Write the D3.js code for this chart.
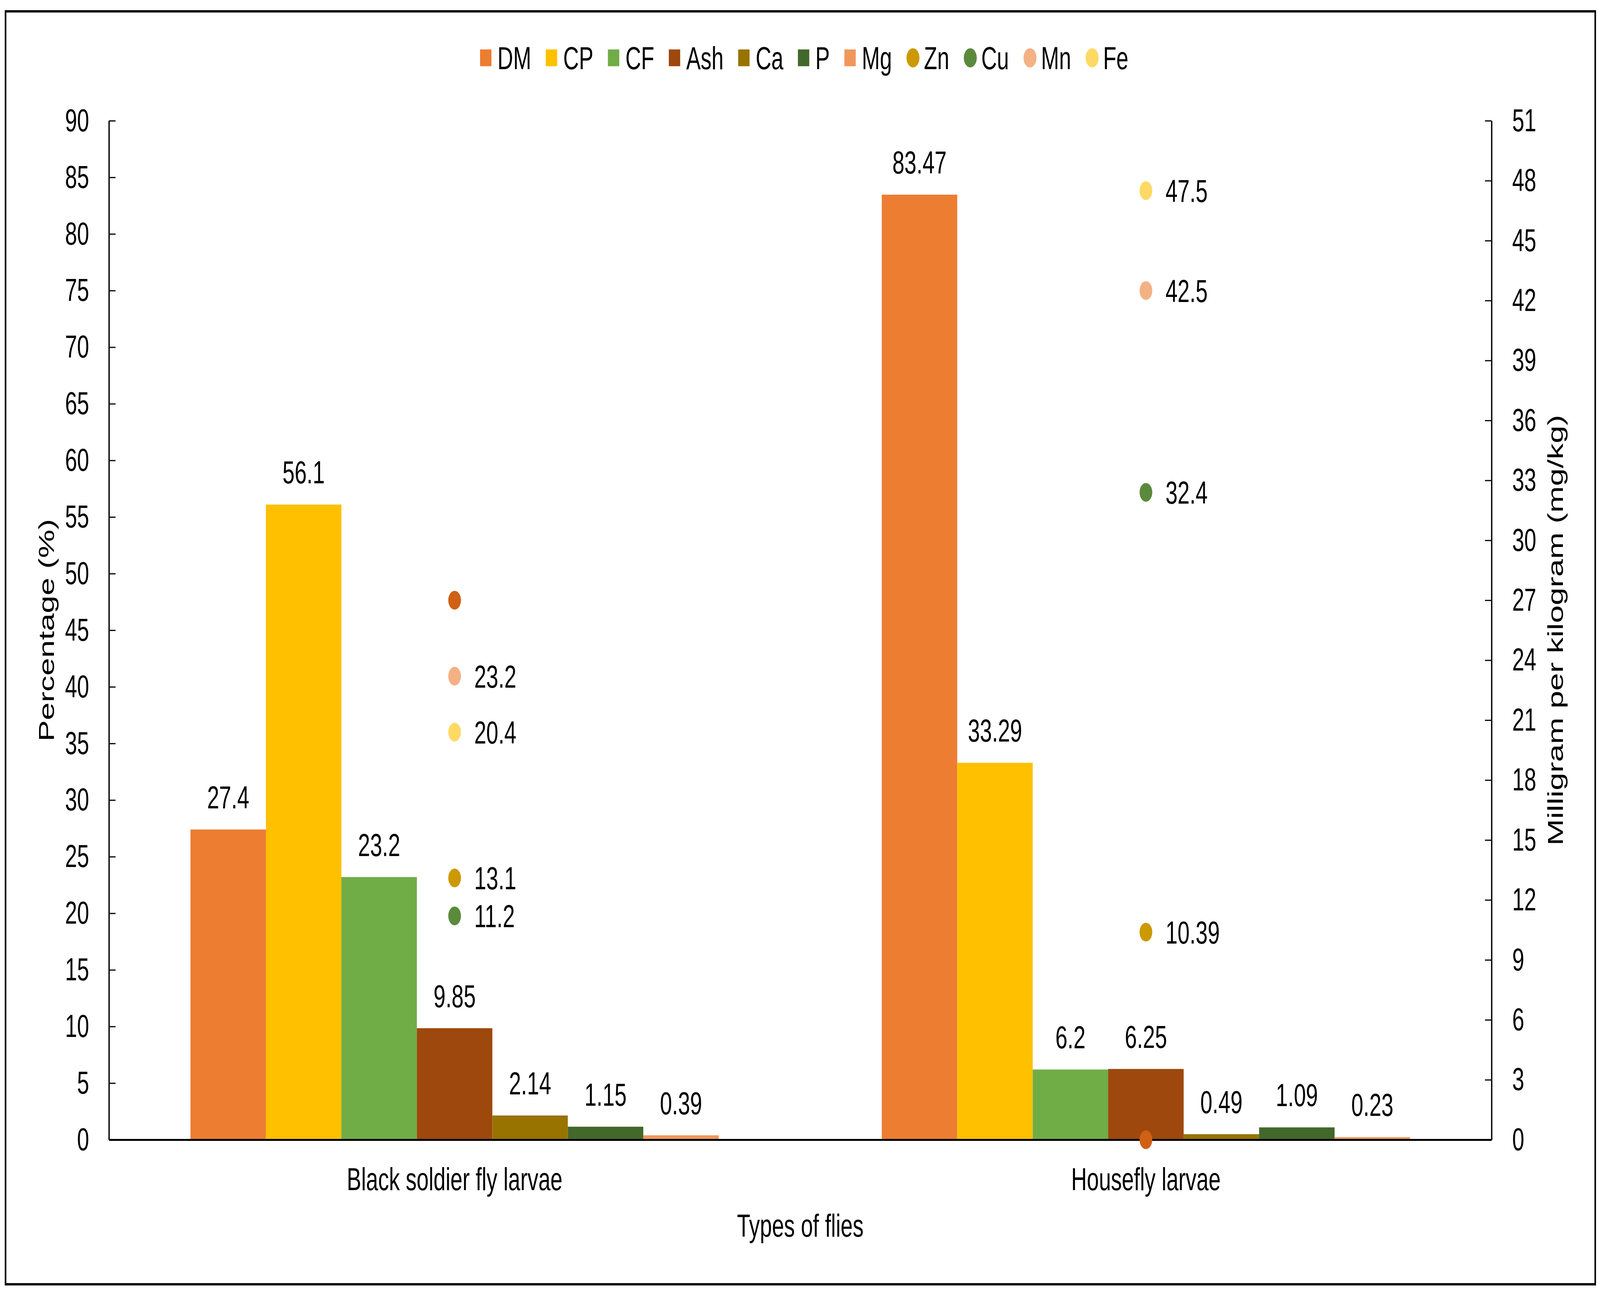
<!DOCTYPE html>
<html>
<head>
<meta charset="utf-8">
<script src="https://cdn.jsdelivr.net/npm/d3@7"></script>
<style>
  html,body{margin:0;padding:0;background:#fff;overflow:hidden;}
  text{font-family:"Liberation Sans",Arial,sans-serif;fill:#000;}
</style>
</head>
<body>
<script>
// categories
var flies=["Black soldier fly larvae","Housefly larvae"]

// bar series, percentage (left axis)
var barNames=["DM","CP","CF","Ash","Ca","P","Mg"]
var barColors=["#ED7D31","#FFC000","#70AD47","#9E480E","#997300","#43682B","#F1975A"]
var bsfBars=[27.4,56.1,23.2,9.85,2.14,1.15,0.39]
var hfBars=[83.47,33.29,6.2,6.25,0.49,1.09,0.23]

// dot series, mg/kg (right axis)
var dotNames=["Zn","Cu","Mn","Fe"]
var dotColors=["#CC9900","#5B8A3C","#F4B183","#FFD966"]
var bsfDots=[13.1,11.2,23.2,20.4]
var hfDots=[10.39,32.4,42.5,47.5]
// extra dot series with no legend entry and no labels
var extraColor="#D06014"
var extraDots=[27,0]

var leftTicks=d3.range(0,91,5)
var rightTicks=d3.range(0,52,3)

// drawn in a 6050x3317 frame, stretched onto whatever window we get
var screen={width:6050,height:3317}
var plot={left:412,right:5640,top:309,bottom:2917}
var fs=82

var svg=d3.select("body").append("svg")
          .attr("width",window.innerWidth||screen.width)
          .attr("height",window.innerHeight||screen.height)
          .attr("viewBox","0 0 "+screen.width+" "+screen.height)
          .attr("preserveAspectRatio","none")
          .style("display","block")

svg.append("rect")
   .attr("x",21).attr("y",29)
   .attr("width",6011).attr("height",3258)
   .attr("fill","#fff").attr("stroke","#000").attr("stroke-width",6)

var x0=d3.scaleBand().domain(flies).range([plot.left,plot.right])
var x1=d3.scaleBand().domain(barNames).range([0,x0.bandwidth()]).paddingInner(0).paddingOuter(1.08)
var yL=d3.scaleLinear().domain([0,90]).range([plot.bottom,plot.top])
var yR=d3.scaleLinear().domain([0,51]).range([plot.bottom,plot.top])

var barRows=[bsfBars,hfBars]
var barData=[]
flies.forEach(function(f,i){
  barNames.forEach(function(n,j){barData.push({fly:f,name:n,value:barRows[i][j],color:barColors[j]})})
})

var bars=svg.append("g")
bars.selectAll("rect")
    .data(barData)
    .enter()
    .append("rect")
    .attr("x",function(d){return x0(d.fly)+x1(d.name);})
    .attr("y",function(d){return yL(d.value);})
    .attr("width",x1.bandwidth())
    .attr("height",function(d){return yL(0)-yL(d.value);})
    .attr("fill",function(d){return d.color;})

bars.selectAll("text")
    .data(barData)
    .enter()
    .append("text")
    .attr("x",function(d){return x0(d.fly)+x1(d.name)+x1.bandwidth()/2;})
    .attr("y",function(d){return yL(d.value)-54;})
    .attr("text-anchor","middle")
    .attr("font-size",fs)
    .text(function(d){return d.value;})

// axes
var leftAxis=d3.axisLeft(yL).tickValues(leftTicks).tickSizeInner(-25).tickSizeOuter(0).tickPadding(75)
var gl=svg.append("g").attr("transform","translate("+plot.left+",0)").call(leftAxis)
var rightAxis=d3.axisRight(yR).tickValues(rightTicks).tickSizeInner(-25).tickSizeOuter(0).tickPadding(78)
var gr=svg.append("g").attr("transform","translate("+plot.right+",0)").call(rightAxis)
var bottomAxis=d3.axisBottom(x0).tickSize(0).tickPadding(71)
var gb=svg.append("g").attr("transform","translate(0,"+plot.bottom+")").call(bottomAxis)

;[gl,gr,gb].forEach(function(g){
  g.selectAll("text").attr("font-size",fs).attr("font-family","Liberation Sans, Arial, sans-serif").attr("fill","#000")
  g.select(".domain").attr("stroke","#000").attr("stroke-width",5)
  g.selectAll(".tick line").attr("stroke","#000").attr("stroke-width",3)
})

svg.append("text")
   .attr("transform","translate(204,"+((plot.top+plot.bottom)/2)+") rotate(-90)")
   .attr("text-anchor","middle").attr("font-size",fs)
   .text("Percentage (%)")
svg.append("text")
   .attr("transform","translate(5910,"+((plot.top+plot.bottom)/2)+") rotate(-90)")
   .attr("text-anchor","middle").attr("font-size",fs)
   .text("Milligram per kilogram (mg/kg)")
svg.append("text")
   .attr("x",(plot.left+plot.right)/2).attr("y",3165)
   .attr("text-anchor","middle").attr("font-size",fs)
   .text("Types of flies")

// dots
var dotRows=[bsfDots,hfDots]
var dotData=[]
flies.forEach(function(f,i){
  dotData.push({fly:f,value:extraDots[i],color:extraColor,label:false})
  dotNames.forEach(function(n,j){dotData.push({fly:f,name:n,value:dotRows[i][j],color:dotColors[j],label:true})})
})
var dots=svg.append("g")
dots.selectAll("circle")
    .data(dotData)
    .enter()
    .append("circle")
    .attr("cx",function(d){return x0(d.fly)+x0.bandwidth()/2;})
    .attr("cy",function(d){return yR(d.value);})
    .attr("r",24)
    .attr("fill",function(d){return d.color;})
dots.selectAll("text")
    .data(dotData.filter(function(d){return d.label;}))
    .enter()
    .append("text")
    .attr("x",function(d){return x0(d.fly)+x0.bandwidth()/2+74;})
    .attr("y",function(d){return yR(d.value)+29;})
    .attr("font-size",fs)
    .text(function(d){return d.value;})

// legend
var legendItems=[]
barNames.forEach(function(n,i){legendItems.push({name:n,color:barColors[i],shape:"rect"})})
dotNames.forEach(function(n,i){legendItems.push({name:n,color:dotColors[i],shape:"circle"})})

var legend=svg.append("g")
var lx=0
legendItems.forEach(function(d){
  var g=legend.append("g")
  if(d.shape=="rect"){
    g.append("rect").attr("x",lx).attr("y",-21.5).attr("width",43).attr("height",43).attr("fill",d.color)
    lx+=43+23
  }else{
    g.append("circle").attr("cx",lx+24.5).attr("cy",0).attr("r",24.5).attr("fill",d.color)
    lx+=49+17
  }
  var t=g.append("text").attr("x",lx).attr("y",29).attr("font-size",fs).text(d.name)
  lx+=t.node().getComputedTextLength()+55
})
lx-=55
legend.attr("transform","translate("+(3041-lx/2)+",148)")
</script>
</body>
</html>
